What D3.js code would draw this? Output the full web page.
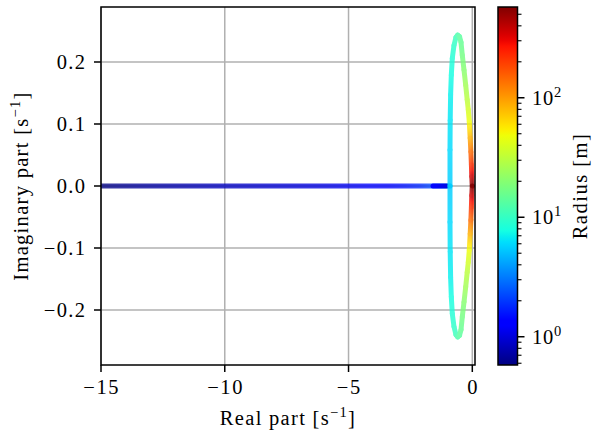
<!DOCTYPE html>
<html>
<head>
<meta charset="utf-8">
<script src="https://cdn.jsdelivr.net/npm/d3@7/dist/d3.min.js"></script>
<style>
  html, body { margin: 0; padding: 0; background: #ffffff; }
  svg { display: block; }
  text { font-family: "Liberation Serif", "DejaVu Serif", serif; fill: #000; }
</style>
</head>
<body>
<svg id="chart" width="592" height="432"></svg>
<script>
// ---------------- data ----------------
// long real branch
const realRe = [-15, -14.5, -13.5, -12, -10, -8, -6, -4.5, -3.5, -2.7, -2.1, -1.7, -1.4, -1.15, -0.901];
const realR  = [0.58, 0.62, 0.68, 0.75, 0.85, 0.95, 1.05, 1.2, 1.35, 1.55, 1.8, 2.2, 2.8, 3.8, 5.4];
// short dark real branch
const shortRe = [-1.587, -1.4, -1.2, -1.02];
const shortR  = [1.25, 1.18, 1.1, 1.04];
// complex branch (upper half; lower half is its conjugate)
const ringRe = [-0.901, -0.901, -0.893, -0.876, -0.848, -0.808, -0.739, -0.658, -0.590, -0.517, -0.456,
                -0.404, -0.335, -0.267, -0.206, -0.162, -0.121, -0.085, -0.057, -0.036, -0.020, -0.003];
const ringIm = [0, 0.058, 0.106, 0.147, 0.179, 0.206, 0.227, 0.240, 0.2435, 0.241, 0.232,
                0.211, 0.187, 0.163, 0.139, 0.123, 0.103, 0.077, 0.055, 0.034, 0.015, 0];
const ringR  = [5.5, 6, 6.5, 7, 7.7, 8.5, 9.5, 10.8, 12, 13.5, 15,
                17, 20, 25, 31, 38, 48, 85, 140, 220, 350, 575];
const xTicks = [-15, -10, -5, 0];
const xTickLabels = ["\u221215", "\u221210", "\u22125", "0"];
const yTicks = [-0.2, -0.1, 0.0, 0.1, 0.2];
const yTickLabels = ["\u22120.2", "\u22120.1", "0.0", "0.1", "0.2"];
const cbTicks = [1, 10, 100];
const cbTickExp = ["0", "1", "2"];
const cbMinor = [0.6, 0.7, 0.8, 0.9, 2, 3, 4, 5, 6, 7, 8, 9, 20, 30, 40, 50, 60, 70, 80, 90, 200, 300, 400, 500];
const rMin = 0.58, rMax = 575;

// ---------------- layout ----------------
const box = {left: 101, right: 475, top: 7, bottom: 365};
const cb = {left: 498, right: 517.5, top: 7, bottom: 365};
const svg = d3.select("#chart");
const defs = svg.append("defs");

const x = d3.scaleLinear().domain([-15, 0.109]).range([box.left, box.right]);
const y = d3.scaleLinear().domain([-0.2887, 0.2887]).range([box.bottom, box.top]);
const cbY = d3.scaleLog().domain([rMin, rMax]).range([cb.bottom, cb.top]);
const norm = d3.scaleLog().domain([rMin, rMax]).range([0, 1]).clamp(true);

// jet colormap
const jr = d3.scaleLinear().domain([0, 0.35, 0.66, 0.89, 1]).range([0, 0, 1, 1, 0.5]).clamp(true);
const jg = d3.scaleLinear().domain([0, 0.125, 0.375, 0.64, 0.91, 1]).range([0, 0, 1, 1, 0, 0]).clamp(true);
const jb = d3.scaleLinear().domain([0, 0.11, 0.34, 0.65, 1]).range([0.5, 1, 1, 0, 0]).clamp(true);
function jet(t) {
  return d3.rgb(Math.round(255 * jr(t)), Math.round(255 * jg(t)), Math.round(255 * jb(t))).formatHex();
}
const colorR = r => jet(norm(r));

// ---------------- grid ----------------
const gGrid = svg.append("g");
gGrid.selectAll("line.gx").data(xTicks).enter().append("line")
  .attr("x1", d => x(d)).attr("x2", d => x(d))
  .attr("y1", box.top).attr("y2", box.bottom)
  .attr("stroke", "#b0b0b0").attr("stroke-width", 1.5);
gGrid.selectAll("line.gy").data(yTicks).enter().append("line")
  .attr("y1", d => y(d)).attr("y2", d => y(d))
  .attr("x1", box.left).attr("x2", box.right)
  .attr("stroke", "#b0b0b0").attr("stroke-width", 1.5);

// ---------------- data marks ----------------
svg.append("clipPath").attr("id", "clipBox").append("rect")
  .attr("x", box.left).attr("y", box.top)
  .attr("width", box.right - box.left).attr("height", box.bottom - box.top);

let gradId = 0;
// a real-axis branch: one straight stroke with a gradient passing through every data point
function drawReal(re, rr, opacity) {
  const g = svg.append("g").attr("opacity", opacity).attr("clip-path", "url(#clipBox)");
  const xa = x(re[0]), xb = x(re[re.length - 1]), yy = y(0);
  const id = "rg" + (gradId++);
  const grad = defs.append("linearGradient").attr("id", id)
    .attr("gradientUnits", "userSpaceOnUse")
    .attr("x1", xa).attr("y1", yy).attr("x2", xb).attr("y2", yy);
  for (let i = 0; i < re.length - 1; i++) {
    const o1 = (x(re[i]) - xa) / (xb - xa), o2 = (x(re[i + 1]) - xa) / (xb - xa);
    const l1 = Math.log(rr[i]), l2 = Math.log(rr[i + 1]);
    for (let k = 0; k < 6; k++) {
      const t = k / 6;
      grad.append("stop").attr("offset", o1 + (o2 - o1) * t)
        .attr("stop-color", colorR(Math.exp(l1 + (l2 - l1) * t)));
    }
  }
  grad.append("stop").attr("offset", 1).attr("stop-color", colorR(rr[rr.length - 1]));
  g.append("line")
    .attr("x1", xa).attr("y1", yy).attr("x2", xb).attr("y2", yy)
    .attr("stroke", `url(#${id})`)
    .attr("stroke-width", 5)
    .attr("stroke-linecap", "round");
}
// a curved branch: segment by segment, each with its own gradient
function drawCurve(re, im, rr, opacity) {
  const g = svg.append("g").attr("opacity", opacity).attr("clip-path", "url(#clipBox)");
  for (let i = 0; i < re.length - 1; i++) {
    const x1 = x(re[i]), y1 = y(im[i]), x2 = x(re[i + 1]), y2 = y(im[i + 1]);
    const id = "sg" + (gradId++);
    const grad = defs.append("linearGradient").attr("id", id)
      .attr("gradientUnits", "userSpaceOnUse")
      .attr("x1", x1).attr("y1", y1).attr("x2", x2 + 0.001).attr("y2", y2 + 0.001);
    const l1 = Math.log(rr[i]), l2 = Math.log(rr[i + 1]);
    for (let k = 0; k <= 10; k++) {
      const t = k / 10;
      grad.append("stop").attr("offset", t).attr("stop-color", colorR(Math.exp(l1 + (l2 - l1) * t)));
    }
    g.append("line")
      .attr("x1", x1).attr("y1", y1).attr("x2", x2).attr("y2", y2)
      .attr("stroke", `url(#${id})`)
      .attr("stroke-width", 5)
      .attr("stroke-linecap", "round");
  }
}
drawReal(realRe, realR, 0.78);
drawReal(shortRe, shortR, 0.95);
drawCurve(ringRe, ringIm, ringR, 0.82);
drawCurve(ringRe, ringIm.map(v => -v), ringR, 0.82);

// ---------------- axes ----------------
const gAx = svg.append("g");
gAx.append("rect")
  .attr("x", box.left).attr("y", box.top)
  .attr("width", box.right - box.left).attr("height", box.bottom - box.top)
  .attr("fill", "none").attr("stroke", "#000").attr("stroke-width", 1.5);

gAx.selectAll("line.tx").data(xTicks).enter().append("line")
  .attr("x1", d => x(d)).attr("x2", d => x(d))
  .attr("y1", box.bottom).attr("y2", box.bottom + 7)
  .attr("stroke", "#000").attr("stroke-width", 1.5);
gAx.selectAll("text.tx").data(xTicks).enter().append("text")
  .attr("x", d => x(d) + 0.8).attr("y", 394)
  .attr("text-anchor", "middle").attr("font-size", 20.5)
  .attr("letter-spacing", 1.6)
  .text((d, i) => xTickLabels[i]);

gAx.selectAll("line.ty").data(yTicks).enter().append("line")
  .attr("y1", d => y(d)).attr("y2", d => y(d))
  .attr("x1", box.left - 7).attr("x2", box.left)
  .attr("stroke", "#000").attr("stroke-width", 1.5);
gAx.selectAll("text.ty").data(yTicks).enter().append("text")
  .attr("x", 86.5).attr("y", d => y(d) + 7)
  .attr("text-anchor", "end").attr("font-size", 20.5)
  .attr("letter-spacing", 1.4)
  .text((d, i) => yTickLabels[i]);

// axis labels
const xl = gAx.append("text").attr("x", 288).attr("y", 425)
  .attr("text-anchor", "middle").attr("font-size", 20.5).attr("letter-spacing", 1.3);
xl.append("tspan").text("Real part [s");
xl.append("tspan").attr("font-size", 14.5).attr("dy", -8).text("\u22121");
xl.append("tspan").attr("dy", 8).text("]");

const yl = gAx.append("text").attr("transform", "translate(28,186) rotate(-90)")
  .attr("text-anchor", "middle").attr("font-size", 20.5).attr("letter-spacing", 1.3);
yl.append("tspan").text("Imaginary part [s");
yl.append("tspan").attr("font-size", 14.5).attr("dy", -8).text("\u22121");
yl.append("tspan").attr("dy", 8).text("]");

// ---------------- colorbar ----------------
const cbGrad = defs.append("linearGradient").attr("id", "cbgrad")
  .attr("x1", 0).attr("y1", 1).attr("x2", 0).attr("y2", 0);
for (let k = 0; k <= 64; k++) {
  cbGrad.append("stop").attr("offset", k / 64).attr("stop-color", jet(k / 64));
}
const gCb = svg.append("g");
gCb.append("rect")
  .attr("x", cb.left).attr("y", cb.top)
  .attr("width", cb.right - cb.left).attr("height", cb.bottom - cb.top)
  .attr("fill", "url(#cbgrad)").attr("stroke", "#000").attr("stroke-width", 1.5);
gCb.selectAll("line.cbm").data(cbMinor).enter().append("line")
  .attr("x1", cb.right).attr("x2", cb.right + 4)
  .attr("y1", d => cbY(d)).attr("y2", d => cbY(d))
  .attr("stroke", "#000").attr("stroke-width", 1.1);
gCb.selectAll("line.cbt").data(cbTicks).enter().append("line")
  .attr("x1", cb.right).attr("x2", cb.right + 7)
  .attr("y1", d => cbY(d)).attr("y2", d => cbY(d))
  .attr("stroke", "#000").attr("stroke-width", 1.5);
cbTicks.forEach((d, i) => {
  const t = gCb.append("text").attr("x", 532).attr("y", cbY(d) + 7)
    .attr("font-size", 20.5).attr("letter-spacing", 0.8);
  t.append("tspan").text("10");
  t.append("tspan").attr("font-size", 14.5).attr("dy", -8).text(cbTickExp[i]);
});
gCb.append("text").attr("transform", "translate(587,186) rotate(-90)")
  .attr("text-anchor", "middle").attr("font-size", 20.5).attr("letter-spacing", 1.5)
  .text("Radius [m]");
</script>
</body>
</html>
